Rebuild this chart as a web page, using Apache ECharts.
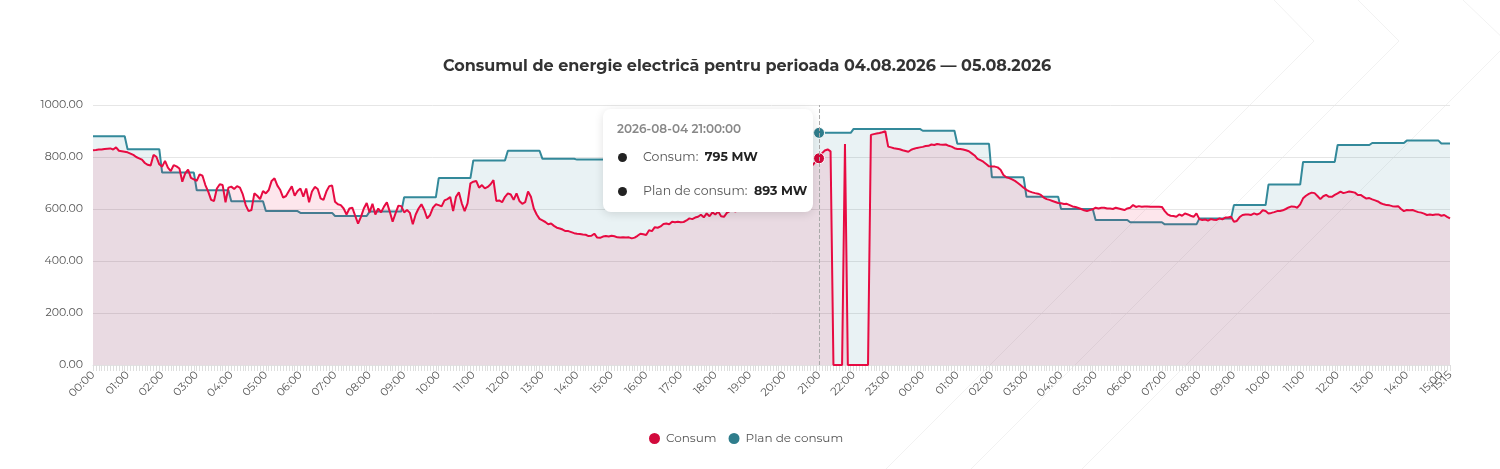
<!DOCTYPE html>
<html>
<head>
<meta charset="utf-8">
<title>Consum energie</title>
<script src="https://cdn.jsdelivr.net/npm/echarts@6/dist/echarts.min.js"></script>
<style>
  html, body { margin: 0; padding: 0; background: #fff; }
  #chart { width: 1500px; height: 469px; }
</style>
</head>
<body>
<div id="chart"></div>
<script>
// 5-minute steps from 2026-08-04 00:00 to 2026-08-05 15:15
const startTime = '2026-08-04 00:00:00';
const stepCount = 472;

// consumption, MW, one value per 5 minutes
const consum = [
  826,827,829,829,831,832,833,829,837,824,
  822,820,818,813,808,800,795,790,777,770,
  767,808,801,772,763,785,759,746,769,764,
  756,705,737,752,720,714,708,733,728,692,
  667,635,631,679,695,692,626,682,686,677,
  688,682,656,615,592,596,660,651,638,669,
  660,673,708,718,690,673,644,650,669,687,
  651,669,679,647,679,626,667,685,677,641,
  635,667,688,690,628,618,615,602,579,602,
  605,574,544,570,602,623,587,620,579,602,
  587,609,626,590,551,583,613,611,587,596,
  585,541,579,602,618,596,564,577,605,618,
  615,610,633,638,646,592,647,664,622,592,
  622,699,705,708,682,692,679,685,695,711,
  631,633,626,647,660,656,635,660,631,620,
  626,667,647,602,579,562,
  556,550,541,544,
  535,528,525,521,515,515,511,507,505,504,
  502,501,496,497,505,490,489,494,496,494,
  497,495,491,490,491,490,491,487,490,497,
  505,503,500,518,515,530,528,533,542,544,
  541,551,549,551,549,550,556,564,561,567,
  570,578,568,583,572,587,579,590,572,570,
  585,
  592,598,590,604,611,606,618,625,619,632,
  640,636,648,655,651,664,672,668,681,690,
  686,700,712,708,722,735,731,748,760,772,785,
  795,814,825,829,822,0,0,0,0,850,
  0,0,0,0,0,0,0,0,885,888,890,892,895,899,
  840,837,834,832,830,826,823,820,828,832,
  835,837,839,842,843,848,846,850,848,847,
  848,843,840,834,831,831,829,826,822,814,
  806,793,788,
  782,773,764,763,763,760,751,731,722,719,
  714,708,700,691,682,674,668,664,661,659,
  654,644,638,635,631,627,623,622,619,620,
  615,610,608,604,600,595,592,596,599,605,
  602,605,605,602,602,600,605,602,599,596,
  602,605,615,608,611,609,610,610,609,609,
  609,609,608,592,579,574,573,570,579,574,
  583,579,574,570,583,561,558,560,555,561,
  559,558,564,560,567,567,570,551,554,569,
  577,579,579,577,583,579,583,595,592,583,
  585,588,592,592,595,600,606,610,609,605,
  618,641,651,658,663,661,650,638,649,654,
  647,647,654,660,667,661,664,667,665,663,
  654,654,647,640,642,637,633,629,622,618,
  615,614,611,610,611,600,592,596,595,596,
  592,588,586,582,577,579,577,579,579,574,
  577,570,564
];

// consumption plan, MW, one value per hour (00:00 on 04.08 .. 15:00 on 05.08)
const planHourly = [
  880,830,740,672,630,592,585,573,590,645,
  719,787,824,793,790,790,800,825,855,880,
  893,893,908,908,901,851,722,647,600,558,
  549,541,563,615,694,781,846,854,863,852
];

const yTicks = { min: 0, max: 1000, interval: 200 };
const tipIndex = 252;

const RED = '#d20a3c';
const TEAL = '#2f7d8c';
const FONT = 'Montserrat, Inter, "Open Sans", sans-serif';

function pad(n) { return n < 10 ? '0' + n : '' + n; }

const categories = [];
const t0 = new Date(startTime.replace(' ', 'T'));
for (let i = 0; i < stepCount; i++) {
  const d = new Date(t0.getTime() + i * 5 * 60000);
  categories.push(d.getFullYear() + '-' + pad(d.getMonth() + 1) + '-' + pad(d.getDate()) + ' ' +
    pad(d.getHours()) + ':' + pad(d.getMinutes()) + ':00');
}

// plan holds its hourly value for each 5-minute step
const plan = categories.map((c, i) => planHourly[Math.floor(i / 12)]);

const chevron = (pts) => ({
  type: 'polyline', z: 0, silent: true,
  shape: { points: pts },
  style: { stroke: '#f2f2f2', lineWidth: 1, fill: null }
});

const timeLabel = {
  rotate: 45,
  fontSize: 11,
  color: '#555',
  margin: 8,
  formatter: function (v) { return v.slice(11, 16); }
};

const chart = echarts.init(document.getElementById('chart'));

chart.setOption({
  animation: false,
  textStyle: { fontFamily: FONT },
  title: {
    text: 'Consumul de energie electrică pentru perioada 04.08.2026 — 05.08.2026',
    left: 438,
    top: 53,
    textStyle: { fontSize: 16, fontWeight: 'bold', color: '#333', fontFamily: FONT }
  },
  graphic: [
    chevron([[1274, 0], [1314, 41], [886, 469]]),
    chevron([[1358, 0], [1399, 41], [971, 469]]),
    chevron([[1463, 0], [1508, 43], [1082, 469]])
  ],
  legend: {
    bottom: 18,
    left: 642,
    icon: 'circle',
    itemWidth: 13,
    itemHeight: 13,
    itemGap: 10,
    textStyle: { fontSize: 12, color: '#555', fontFamily: FONT }
  },
  tooltip: {
    trigger: 'axis',
    alwaysShowContent: true,
    transitionDuration: 0,
    padding: 0,
    borderWidth: 0,
    backgroundColor: '#fff',
    extraCssText: 'border-radius:8px;box-shadow:0 2px 10px rgba(0,0,0,0.12);',
    position: function () { return [603, 109]; },
    axisPointer: {
      type: 'line',
      lineStyle: { color: '#aaa', type: 'dashed', width: 1 }
    },
    formatter: function (params) {
      const dot = '<span style="display:inline-block;width:9px;height:9px;border-radius:50%;background:#222;margin:0 16px 0 1px;vertical-align:middle;"></span>';
      let html = '<div style="width:182px;padding:12px 14px 11px 14px;font-family:' + FONT.replace(/"/g, "'") + ';">';
      html += '<div style="font-size:12px;line-height:16px;font-weight:600;color:#888;">' + params[0].name + '</div>';
      params.forEach(function (p, k) {
        html += '<div style="font-size:12.5px;line-height:20px;margin-top:' + (k === 0 ? 10 : 14) + 'px;white-space:nowrap;">' +
          dot + '<span style="color:#555;">' + p.seriesName + ':</span>&nbsp;&nbsp;<b style="color:#222;font-weight:700;">' + p.value + ' MW</b></div>';
      });
      html += '</div>';
      return html;
    }
  },
  grid: { left: 93, right: 50, top: 105, bottom: 104 },
  xAxis: [
    {
      type: 'category',
      boundaryGap: false,
      data: categories,
      axisLine: { lineStyle: { color: '#e2e2e2' } },
      axisTick: { interval: 0, length: 6, lineStyle: { color: '#dedede' } },
      axisLabel: Object.assign({}, timeLabel, {
        interval: function (idx) { return idx % 12 === 0; }
      }),
      splitLine: { show: false }
    },
    {
      // carries only the closing label (15:15), which would otherwise hide 15:00
      type: 'category',
      position: 'bottom',
      boundaryGap: false,
      data: categories,
      axisLine: { show: false },
      axisTick: { show: false },
      axisPointer: { show: false },
      axisLabel: Object.assign({}, timeLabel, {
        showMaxLabel: true,
        interval: function (idx) { return idx === stepCount - 1; }
      }),
      splitLine: { show: false }
    }
  ],
  yAxis: {
    type: 'value',
    min: yTicks.min,
    max: yTicks.max,
    interval: yTicks.interval,
    axisLine: { show: false },
    axisTick: { show: false },
    axisLabel: {
      fontSize: 11,
      color: '#555',
      margin: 10,
      formatter: function (v) { return v.toFixed(2); }
    },
    splitLine: { lineStyle: { color: '#e6e6e6', width: 1 } }
  },
  series: [
    {
      name: 'Consum',
      type: 'line',
      xAxisIndex: 0,
      data: consum,
      showSymbol: false,
      symbol: 'circle',
      symbolSize: 11,
      z: 3,
      itemStyle: { color: RED, borderColor: '#fff', borderWidth: 1 },
      lineStyle: { color: RED, width: 2 },
      areaStyle: { color: RED, opacity: 0.1 },
      emphasis: { scale: false, focus: 'none' }
    },
    {
      name: 'Plan de consum',
      type: 'line',
      xAxisIndex: 0,
      data: plan,
      showSymbol: false,
      symbol: 'circle',
      symbolSize: 11,
      z: 2,
      itemStyle: { color: TEAL, borderColor: '#fff', borderWidth: 1 },
      lineStyle: { color: TEAL, width: 2 },
      areaStyle: { color: TEAL, opacity: 0.11 },
      emphasis: { scale: false, focus: 'none' }
    }
  ]
});

chart.dispatchAction({ type: 'showTip', seriesIndex: 0, dataIndex: tipIndex });
</script>
</body>
</html>
